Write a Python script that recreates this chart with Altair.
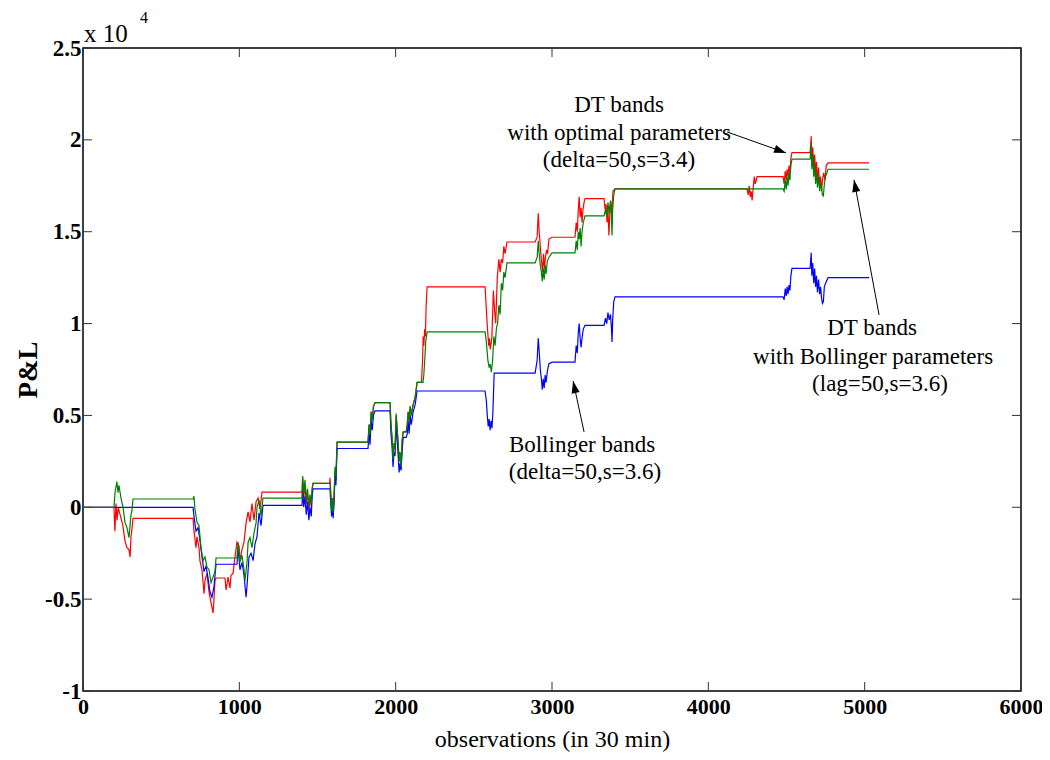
import altair as alt
import pandas as pd

# ---------------- data (observations, P&L in units of 1e4) ----------------
RED_X = [0, 198, 204, 211, 218, 225, 240, 255, 268, 281, 294, 301, 307, 313, 320,
         704, 710, 723, 729, 742, 748, 761, 774, 780, 793, 806, 819, 832, 838, 844, 851,
         908, 915, 928, 940, 947, 960, 972, 985, 998, 1004, 1017, 1030, 1043, 1056, 1068,
         1081, 1094, 1107, 1120, 1132, 1145,
         1401, 1405, 1412, 1420, 1428, 1436, 1445, 1452, 1460, 1466, 1471,
         1578, 1580, 1585, 1590, 1596, 1600, 1606, 1612, 1618, 1625,
         1823, 1830, 1836, 1843, 1850, 1858, 1868,
         1964, 1970, 1977, 1983, 1990, 1996, 2003, 2010, 2016, 2022, 2028, 2035, 2041, 2048,
         2067, 2074, 2080, 2086, 2093, 2100, 2112, 2125, 2137,
         2165, 2172, 2176, 2180, 2186, 2190, 2195, 2201,
         2572, 2585, 2595, 2600, 2605, 2615, 2625, 2632, 2640, 2650, 2660, 2668, 2676, 2684,
         2692, 2700, 2712,
         2892, 2905, 2912, 2918, 2925, 2932, 2940, 2946, 2952, 2958, 2965, 2972, 2980, 3000,
         3147, 3155, 3162, 3168, 3174, 3180, 3186, 3192, 3198, 3205, 3211,
         3333, 3340, 3346, 3352, 3358, 3364, 3370, 3376, 3382, 3390, 3403,
         4248, 4255, 4262, 4268, 4274, 4280, 4287, 4294, 4300, 4312,
         4478, 4485, 4492, 4498, 4504, 4510, 4516, 4522, 4528, 4535,
         4651, 4658, 4662, 4668, 4674, 4680, 4686, 4692, 4698, 4705, 4712, 4718, 4724, 4730,
         4738, 4746, 4754, 4766, 5028]
RED_Y = [0, 0, -0.13, 0.02, -0.07, 0.0, -0.05, -0.10, -0.18, -0.22, -0.23, -0.27, -0.16, -0.12, -0.06,
         -0.06, -0.13, -0.22, -0.16, -0.22, -0.29, -0.34, -0.47, -0.40, -0.36, -0.46, -0.52, -0.575, -0.50, -0.40, -0.385,
         -0.385, -0.45, -0.38, -0.44, -0.37, -0.36, -0.27, -0.19, -0.21, -0.29, -0.23, -0.19, -0.085, -0.025, -0.08,
         0.02, -0.07, 0.03, 0.05, -0.01, 0.083,
         0.083, 0.16, 0.05, 0.12, 0.02, 0.08, -0.02, 0.06, 0.0, 0.10, 0.13,
         0.13, 0.16, 0.08, 0.0, 0.05, -0.02, 0.05, 0.20, 0.15, 0.355,
         0.355, 0.45, 0.40, 0.52, 0.47, 0.55, 0.57,
         0.57, 0.45, 0.38, 0.27, 0.35, 0.32, 0.50, 0.42, 0.35, 0.25, 0.30, 0.22, 0.36, 0.41,
         0.41, 0.45, 0.52, 0.47, 0.55, 0.50, 0.56, 0.60, 0.68,
         0.68, 0.80, 0.93, 0.88, 0.97, 0.93, 1.10, 1.20,
         1.20, 1.00, 0.88, 0.92, 0.86, 0.92, 1.18, 1.08, 1.00, 1.25, 1.35, 1.28, 1.35, 1.33,
         1.42, 1.38, 1.444,
         1.444, 1.47, 1.60, 1.50, 1.42, 1.35, 1.28, 1.38, 1.30, 1.36, 1.40, 1.38, 1.46, 1.47,
         1.47, 1.55, 1.50, 1.62, 1.69, 1.58, 1.63, 1.55, 1.62, 1.66, 1.68,
         1.68, 1.62, 1.65, 1.55, 1.62, 1.48, 1.60, 1.66, 1.60, 1.72, 1.733,
         1.733, 1.70, 1.75, 1.69, 1.72, 1.67, 1.74, 1.80, 1.76, 1.80,
         1.80, 1.76, 1.83, 1.78, 1.84, 1.80, 1.86, 1.82, 1.90, 1.93,
         1.93, 2.02, 1.88, 1.96, 1.85, 1.92, 1.82, 1.88, 1.78, 1.85, 1.75, 1.80, 1.72, 1.78,
         1.82, 1.78, 1.86, 1.875, 1.875]

GREEN_X = [0, 198, 205, 217, 224, 230, 243, 256, 269, 281, 294, 301, 307, 313, 320,
           704, 710, 716, 729, 742, 755, 768, 780, 793, 806, 819, 832, 844, 851,
           985, 992, 1004, 1017, 1030, 1036, 1049, 1056, 1068, 1081, 1094, 1107, 1113, 1126, 1139, 1151,
           1401, 1405, 1412, 1420, 1428, 1436, 1445, 1452, 1460, 1466, 1471,
           1580, 1585, 1590, 1596, 1600, 1606, 1612, 1618, 1625,
           1823, 1830, 1836, 1843, 1850, 1858, 1868,
           1964, 1970, 1977, 1983, 1990, 1996, 2003, 2010, 2016, 2022, 2028, 2035, 2041, 2048,
           2067, 2074, 2080, 2086, 2093, 2100, 2112, 2125, 2137,
           2175, 2180, 2186, 2192, 2201,
           2572, 2580, 2590, 2598, 2605, 2612, 2620, 2628, 2636, 2645, 2652, 2660, 2668, 2676,
           2684, 2692, 2700, 2712,
           2892, 2905, 2912, 2918, 2925, 2932, 2938, 2944, 2950, 2956, 2962, 2970, 2980, 3000,
           3147, 3155, 3162, 3168, 3174, 3180, 3186, 3192, 3200, 3211,
           3333, 3342, 3350, 3358, 3366, 3374, 3380, 3384, 3388, 3395, 3403,
           4478, 4485, 4492, 4498, 4504, 4510, 4516, 4522, 4528, 4535,
           4651, 4658, 4662, 4668, 4674, 4680, 4686, 4692, 4698, 4705, 4712, 4718, 4724, 4730,
           4736, 4742, 4750, 4766, 5028]
GREEN_Y = [0, 0, 0.08, 0.14, 0.08, 0.12, 0.05, 0.0, -0.085, -0.11, -0.165, -0.10, -0.04, -0.02, 0.045,
           0.045, 0.06, -0.01, -0.08, -0.10, -0.22, -0.29, -0.27, -0.325, -0.34, -0.41, -0.38, -0.35, -0.276,
           -0.276, -0.19, -0.30, -0.26, -0.34, -0.40, -0.30, -0.19, -0.165, -0.22, -0.14, -0.085, 0.0, 0.04, -0.05, 0.05,
           0.05, 0.17, 0.08, 0.15, 0.04, 0.10, 0.0, 0.07, 0.02, 0.10, 0.13,
           0.13, 0.06, -0.02, 0.04, -0.03, 0.06, 0.22, 0.17, 0.355,
           0.355, 0.45, 0.40, 0.52, 0.47, 0.55, 0.57,
           0.57, 0.45, 0.38, 0.26, 0.35, 0.32, 0.51, 0.42, 0.35, 0.25, 0.30, 0.22, 0.36, 0.41,
           0.41, 0.45, 0.52, 0.47, 0.55, 0.50, 0.56, 0.60, 0.68,
           0.68, 0.72, 0.80, 0.90, 0.955,
           0.955, 0.90, 0.80, 0.76, 0.78, 0.736, 0.80, 0.93, 0.88, 0.98, 1.00, 1.10, 1.05, 1.22,
           1.18, 1.28, 1.25, 1.33,
           1.33, 1.36, 1.45, 1.38, 1.32, 1.28, 1.23, 1.30, 1.24, 1.32, 1.27, 1.34, 1.36, 1.385,
           1.385, 1.45, 1.40, 1.50, 1.46, 1.52, 1.42, 1.50, 1.55, 1.586,
           1.586, 1.62, 1.58, 1.66, 1.60, 1.67, 1.58, 1.48, 1.62, 1.70, 1.733,
           1.733, 1.72, 1.78, 1.73, 1.80, 1.75, 1.82, 1.78, 1.86, 1.895,
           1.895, 1.98, 1.84, 1.92, 1.80, 1.87, 1.76, 1.83, 1.74, 1.80, 1.72, 1.76, 1.74, 1.70,
           1.695, 1.76, 1.80, 1.84, 1.84]

BLUE_X = [0, 704, 710, 723, 736, 748, 761, 774, 787, 800, 812, 825, 838, 851,
          985, 992, 1004, 1017, 1030, 1043, 1049, 1062, 1075, 1088, 1100, 1113, 1126, 1139, 1151,
          1401, 1405, 1412, 1420, 1428, 1436, 1445, 1452, 1460, 1466, 1471,
          1580, 1585, 1590, 1596, 1600, 1606, 1612, 1618, 1625,
          1823, 1830, 1836, 1843, 1850, 1858, 1868,
          1964, 1970, 1977, 1983, 1990, 1996, 2003, 2010, 2016, 2022, 2028, 2035, 2041, 2048,
          2067, 2074, 2080, 2086, 2093, 2100, 2112, 2125, 2137,
          2572, 2580, 2586, 2592, 2598, 2604, 2610, 2616, 2622, 2630,
          2892, 2905, 2912, 2918, 2925, 2932, 2938, 2944, 2950, 2956, 2962, 2970, 2980, 3000,
          3147, 3155, 3162, 3168, 3174, 3180, 3186, 3192, 3200, 3211,
          3333, 3342, 3350, 3358, 3366, 3374, 3380, 3384, 3388, 3395, 3403,
          4478, 4485, 4492, 4498, 4504, 4510, 4516, 4522, 4528, 4535,
          4651, 4658, 4662, 4668, 4674, 4680, 4686, 4692, 4698, 4705, 4712, 4718, 4724, 4730,
          4736, 4742, 4750, 4766, 5028]
BLUE_Y = [0, 0, -0.05, -0.13, -0.11, -0.18, -0.27, -0.35, -0.32, -0.385, -0.46, -0.49, -0.43, -0.31,
          -0.31, -0.22, -0.34, -0.30, -0.37, -0.49, -0.43, -0.27, -0.25, -0.29, -0.20, -0.16, -0.03, -0.10, 0.01,
          0.01, 0.10, 0.0, 0.06, -0.04, 0.03, -0.07, 0.0, -0.05, 0.06, 0.10,
          0.10, 0.02, -0.05, 0.0, -0.06, 0.02, 0.18, 0.12, 0.32,
          0.32, 0.40, 0.34, 0.47, 0.42, 0.50, 0.525,
          0.525, 0.40, 0.33, 0.22, 0.30, 0.28, 0.45, 0.36, 0.28, 0.19, 0.24, 0.20, 0.30, 0.38,
          0.38, 0.40, 0.47, 0.40, 0.50, 0.45, 0.52, 0.56, 0.633,
          0.633, 0.58, 0.50, 0.44, 0.48, 0.42, 0.47, 0.43, 0.52, 0.73,
          0.73, 0.80, 0.92, 0.85, 0.75, 0.70, 0.64, 0.70, 0.65, 0.72, 0.68, 0.74, 0.78, 0.79,
          0.79, 0.88, 0.84, 0.95, 1.00, 0.92, 0.87, 0.92, 0.97, 0.99,
          0.99, 1.03, 1.00, 1.06, 1.02, 1.05, 0.98, 0.90, 1.02, 1.12, 1.145,
          1.145, 1.13, 1.19, 1.15, 1.20, 1.16, 1.21, 1.18, 1.26, 1.30,
          1.30, 1.385, 1.26, 1.33, 1.22, 1.30, 1.20, 1.26, 1.17, 1.24, 1.16, 1.20, 1.14, 1.11,
          1.12, 1.20, 1.22, 1.25, 1.25]

X_TICKS = [0, 1000, 2000, 3000, 4000, 5000, 6000]
Y_TICKS = [-1, -0.5, 0, 0.5, 1, 1.5, 2, 2.5]

# annotation texts, anchored in data coordinates
ANN_TEXT = ["DT bands", "with optimal parameters", "(delta=50,s=3.4)",
            "Bollinger bands", "(delta=50,s=3.6)",
            "DT bands", "with Bollinger parameters", "(lag=50,s=3.6)"]
ANN_X = [3429, 3429, 3429, 3192, 3211, 5047, 5054, 5098]
ANN_Y = [2.19, 2.037, 1.89, 0.339, 0.192, 0.976, 0.818, 0.671]

# arrows: tail -> head (data coordinates), head direction in degrees
ARROW_X = [4120, 3205, 5092]
ARROW_Y = [2.043, 0.410, 1.047]
ARROW_X2 = [4497, 3135, 4932]
ARROW_Y2 = [1.929, 0.687, 1.782]
ARROW_ANG = [19.6, 257.8, 259.5]

# ---------------- chart ----------------
W, H = 938, 643
FONT = "Liberation Serif"

xscale = alt.Scale(domain=[0, 6000], nice=False, zero=False)
yscale = alt.Scale(domain=[-1, 2.5], nice=False, zero=False)

x_axis = alt.Axis(values=X_TICKS, ticks=False, domain=False, grid=False,
                  labelExpr="datum.value + ''",
                  labelFont=FONT, labelFontSize=22, labelFontWeight="bold", labelColor="black",
                  labelPadding=5, labelFlush=False, labelOverlap=False,
                  title="observations (in 30 min)", titleFont=FONT, titleFontSize=24,
                  titleFontWeight="normal", titleColor="black", titleY=48, titleBaseline="middle")
y_axis = alt.Axis(values=Y_TICKS, ticks=False, domain=False, grid=False,
                  labelExpr="datum.value + ''",
                  labelFont=FONT, labelFontSize=23, labelFontWeight="bold", labelColor="black",
                  labelPadding=2, labelOverlap=False,
                  title="P&L", titleFont=FONT, titleFontSize=27, titleFontWeight="bold",
                  titleColor="black", titleX=-55, titleY=H / 2, titleAngle=270,
                  titleAlign="center", titleBaseline="middle")


def X(field):
    return alt.X(field, scale=xscale, axis=x_axis, title="observations (in 30 min)")


def Y(field):
    return alt.Y(field, scale=yscale, axis=y_axis, title="P&L")


def sdf(xs, ys):
    return pd.DataFrame({"obs": xs, "pl": ys, "k": list(range(len(xs)))})


def line(xs, ys, color):
    return alt.Chart(sdf(xs, ys)).mark_line(color=color, strokeWidth=1.2, clip=True).encode(
        x=X("obs:Q"), y=Y("pl:Q"), order=alt.Order("k:Q"))


xt = pd.DataFrame({"v": X_TICKS})
yt = pd.DataFrame({"v": Y_TICKS})

bottom_ticks = alt.Chart(xt).mark_rule(color="#333333", strokeWidth=1).encode(
    x=X("v:Q"), y=alt.value(H), y2=alt.value(H - 9))
top_ticks = alt.Chart(xt).mark_rule(color="#333333", strokeWidth=1).encode(
    x=X("v:Q"), y=alt.value(0), y2=alt.value(9))
left_ticks = alt.Chart(yt).mark_rule(color="#333333", strokeWidth=1).encode(
    y=Y("v:Q"), x=alt.value(0), x2=alt.value(9))
right_ticks = alt.Chart(yt).mark_rule(color="#333333", strokeWidth=1).encode(
    y=Y("v:Q"), x=alt.value(W), x2=alt.value(W - 9))

ann = alt.Chart(pd.DataFrame({"t": ANN_TEXT, "ax": ANN_X, "ay": ANN_Y})).mark_text(
    font=FONT, fontSize=23, color="black", align="center", baseline="middle").encode(
    x=X("ax:Q"), y=Y("ay:Q"), text="t:N")

arr_df = pd.DataFrame({"x1": ARROW_X, "y1": ARROW_Y, "x2": ARROW_X2, "y2": ARROW_Y2,
                       "ang": ARROW_ANG})
shafts = alt.Chart(arr_df).mark_rule(color="black", strokeWidth=1).encode(
    x=X("x1:Q"), y=Y("y1:Q"), x2="x2:Q", y2="y2:Q")
heads = alt.Chart(arr_df).mark_point(
    shape="M0,0 L-1,-0.34 L-1,0.34 Z", filled=True, color="black", opacity=1, size=576).encode(
    x=X("x2:Q"), y=Y("y2:Q"), angle=alt.Angle("ang:Q", scale=None))

exp_base = alt.Chart(pd.DataFrame({"t": ["x 10"]})).mark_text(
    font=FONT, fontSize=25, color="black", align="left", baseline="middle").encode(
    text="t:N", x=alt.value(1), y=alt.value(-14))
exp_sup = alt.Chart(pd.DataFrame({"t": ["4"]})).mark_text(
    font=FONT, fontSize=16, color="black", align="left", baseline="middle").encode(
    text="t:N", x=alt.value(57), y=alt.value(-30))

chart = alt.layer(
    bottom_ticks, top_ticks, left_ticks, right_ticks,
    line(RED_X, RED_Y, "#ff0000"),
    line(BLUE_X, BLUE_Y, "#0000ff"),
    line(GREEN_X, GREEN_Y, "#008000"),
    shafts, heads, ann, exp_base, exp_sup,
).properties(
    width=W, height=H,
    padding={"left": 75, "top": 40, "right": 21, "bottom": 61},
    autosize=alt.AutoSizeParams(type="none"),
    background="white",
).configure_view(stroke="black", strokeWidth=1.5)

chart.save("out.html", embed_options={"renderer": "svg", "actions": False})
